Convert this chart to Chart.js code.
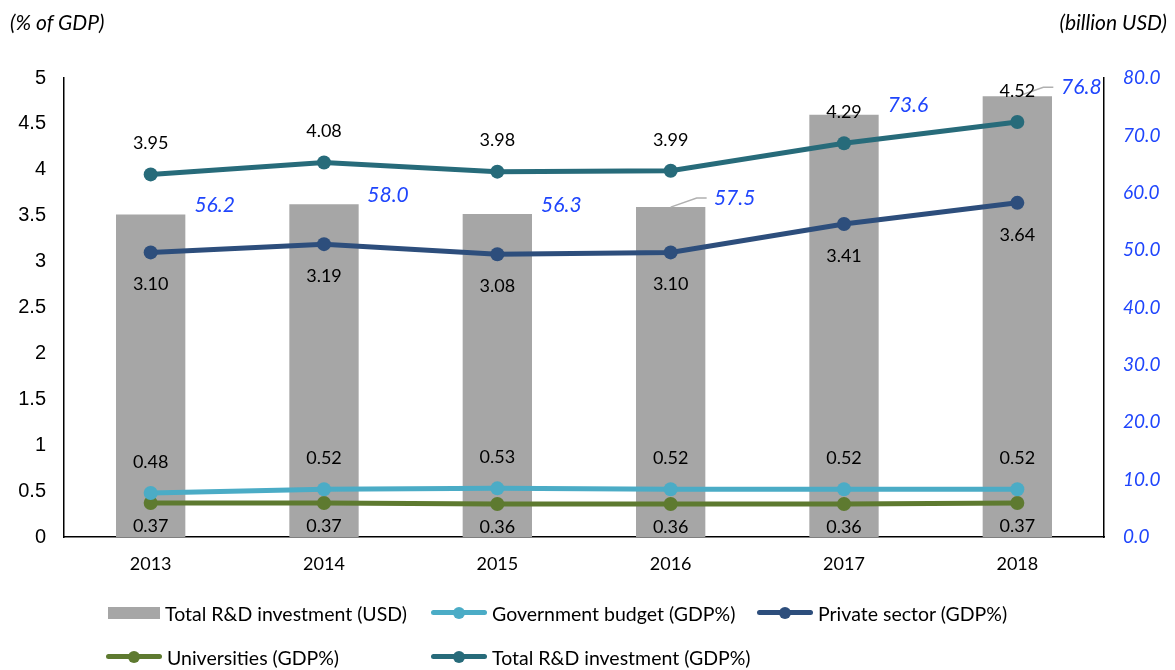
<!DOCTYPE html>
<html>
<head>
<meta charset="utf-8">
<script src="https://cdn.jsdelivr.net/npm/chart.js@4/dist/chart.umd.min.js"></script>
<style>
  body { margin: 0; background: #fff; }
  #wrap { position: relative; width: 1175px; height: 670px; font-family: Lato, sans-serif; }
  .unit { position: absolute; top: 9px; font-size: 21px; font-style: italic; color: #000; }
  .lg { position: absolute; height: 24px; display: flex; align-items: center; font-size: 19.5px; color: #000; white-space: nowrap; }
  .sw { position: relative; height: 24px; margin-right: 5px; }
</style>
</head>
<body>
<div id="wrap">
  <canvas id="chart" width="1175" height="670"></canvas>
  <div class="unit" style="left:10px">(% of GDP)</div>
  <div class="unit" style="right:8px">(billion USD)</div>
  <div id="legend"></div>
</div>
<script>
// データ
const years = ["2013", "2014", "2015", "2016", "2017", "2018"];
const totalUsd = [56.2, 58.0, 56.3, 57.5, 73.6, 76.8];
const govGdp = [0.48, 0.52, 0.53, 0.52, 0.52, 0.52];
const privateGdp = [3.10, 3.19, 3.08, 3.10, 3.41, 3.64];
const uniGdp = [0.37, 0.37, 0.36, 0.36, 0.36, 0.37];
const totalGdp = [3.95, 4.08, 3.98, 3.99, 4.29, 4.52];
const seriesNames = [
  "Total R&D investment (USD)",
  "Government budget (GDP%)",
  "Private sector (GDP%)",
  "Universities (GDP%)",
  "Total R&D investment (GDP%)",
];

const BLUE = "#1f45fc";
const colors = ["#a6a6a6", "#4bacc6", "#2d4e7c", "#5e7a30", "#276b7a"];

// ラベル位置 (点からのずれ)
const labelOffsets = [null, -31, 32, 23, -31];
const leaderBars = [3, 5];

function lineSet(i, data) {
  return {
    type: "line",
    label: seriesNames[i],
    data: data,
    yAxisID: "y",
    borderColor: colors[i],
    backgroundColor: colors[i],
    borderWidth: 5,
    pointRadius: 7,
    pointHoverRadius: 7,
    pointBorderWidth: 0,
    tension: 0,
    order: 1,
  };
}

const labelPlugin = {
  id: "valueLabels",
  afterDatasetsDraw(chart) {
    const ctx = chart.ctx;
    ctx.save();
    ctx.textBaseline = "middle";
    chart.data.datasets.forEach((ds, di) => {
      const meta = chart.getDatasetMeta(di);
      meta.data.forEach((el, i) => {
        const v = ds.data[i];
        if (di === 0) {
          const lx = el.x + 64;
          const ly = el.y - 9;
          if (leaderBars.includes(i)) {
            ctx.strokeStyle = "#b0b0b0";
            ctx.lineWidth = 1.5;
            ctx.beginPath();
            ctx.moveTo(el.x, el.y);
            ctx.lineTo(lx - 38, ly);
            ctx.lineTo(lx - 28, ly);
            ctx.stroke();
          }
          ctx.font = "italic 21px Lato";
          ctx.fillStyle = BLUE;
          ctx.textAlign = "center";
          ctx.fillText(v.toFixed(1), lx, ly);
        } else {
          ctx.font = "18px Lato";
          ctx.fillStyle = "#000";
          ctx.textAlign = "center";
          ctx.fillText(v.toFixed(2), el.x, el.y + labelOffsets[di]);
        }
      });
    });
    ctx.restore();
  },
};

const chart = new Chart(document.getElementById("chart"), {
  data: {
    labels: years,
    datasets: [
      {
        type: "bar",
        label: seriesNames[0],
        data: totalUsd,
        yAxisID: "y1",
        backgroundColor: colors[0],
        barPercentage: 0.4,
        categoryPercentage: 1,
        order: 10,
      },
      lineSet(1, govGdp),
      lineSet(2, privateGdp),
      lineSet(3, uniGdp),
      lineSet(4, totalGdp),
    ],
  },
  options: {
    responsive: false,
    animation: false,
    layout: { padding: { top: 78, left: 0, right: 0, bottom: 0 } },
    plugins: { legend: { display: false }, tooltip: { enabled: false } },
    scales: {
      x: {
        grid: { display: false, drawTicks: false },
        border: { display: true, color: "#000", width: 1.5 },
        ticks: { color: "#000", font: { family: "Lato", size: 18 }, padding: 16 },
        afterFit: (s) => { s.height = 133; },
      },
      y: {
        position: "left",
        min: 0,
        max: 5,
        grid: { display: false, drawTicks: false },
        border: { display: true, color: "#000", width: 1.5 },
        ticks: {
          stepSize: 0.5,
          color: "#000",
          padding: 18,
          font: { family: "Liberation Sans", size: 20 },
          callback: (v) => String(Number(v.toFixed(1))),
        },
        afterFit: (s) => { s.width = 64; },
      },
      y1: {
        position: "right",
        min: 0,
        max: 80,
        grid: { display: false, drawTicks: false },
        border: { display: true, color: "#000", width: 1.5 },
        ticks: {
          stepSize: 10,
          color: BLUE,
          padding: 19,
          font: { family: "Lato", size: 19, style: "italic" },
          callback: (v) => v.toFixed(1),
        },
        afterFit: (s) => { s.width = 71; },
      },
    },
  },
  plugins: [labelPlugin],
});

// 凡例
const legendPos = [
  [108, 601], [431, 601], [757, 601],
  [106, 645], [431, 645],
];
const legend = document.getElementById("legend");
seriesNames.forEach((name, i) => {
  const item = document.createElement("div");
  item.className = "lg";
  item.style.left = legendPos[i][0] + "px";
  item.style.top = legendPos[i][1] + "px";
  const sw = document.createElement("div");
  sw.className = "sw";
  if (i === 0) {
    sw.style.width = "52px";
    sw.innerHTML = `<div style="position:absolute;left:0;top:6px;width:52px;height:12px;background:${colors[0]}"></div>`;
  } else {
    sw.style.width = "56px";
    sw.innerHTML =
      `<div style="position:absolute;left:0;top:9px;width:56px;height:5px;border-radius:3px;background:${colors[i]}"></div>` +
      `<div style="position:absolute;left:22px;top:6px;width:12px;height:12px;border-radius:50%;background:${colors[i]}"></div>`;
  }
  item.appendChild(sw);
  item.appendChild(document.createTextNode(name));
  legend.appendChild(item);
});
</script>
</body>
</html>
